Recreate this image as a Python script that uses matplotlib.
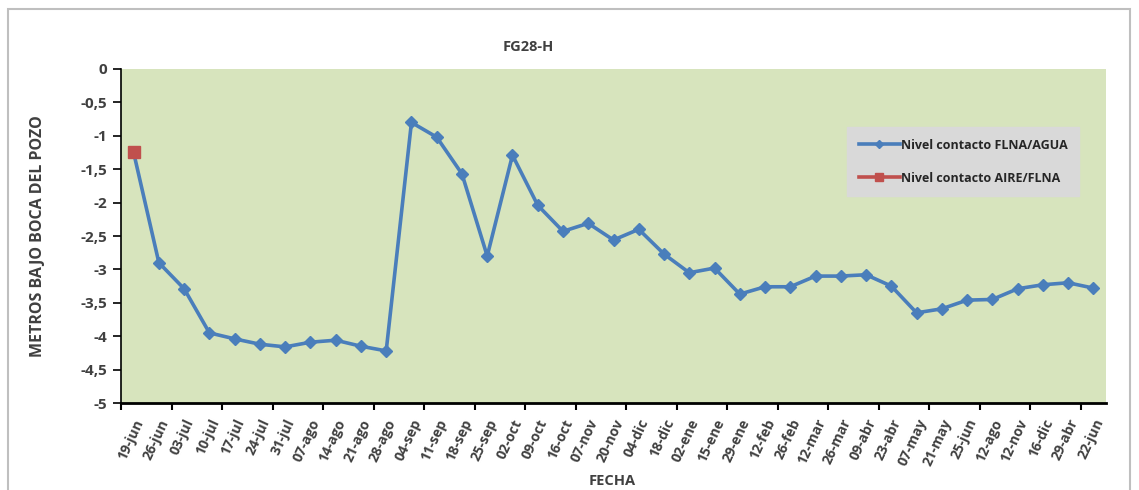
import numpy as np
import matplotlib.pyplot as plt
from matplotlib.patches import Rectangle

fechas = ['19-jun', '26-jun', '03-jul', '10-jul', '17-jul', '24-jul', '31-jul',
          '07-ago', '14-ago', '21-ago', '28-ago', '04-sep', '11-sep', '18-sep',
          '25-sep', '02-oct', '09-oct', '16-oct', '07-nov', '20-nov', '04-dic',
          '18-dic', '02-ene', '15-ene', '29-ene', '12-feb', '26-feb', '12-mar',
          '26-mar', '09-abr', '23-abr', '07-may', '21-may', '25-jun', '12-ago',
          '12-nov', '16-dic', '29-abr', '22-jun']
flna_agua = [-1.25, -2.90, -3.29, -3.95, -4.04, -4.12, -4.16,
             -4.09, -4.06, -4.15, -4.22, -0.80, -1.02, -1.57,
             -2.80, -1.29, -2.04, -2.43, -2.31, -2.56, -2.40,
             -2.77, -3.05, -2.98, -3.37, -3.26, -3.26, -3.10,
             -3.10, -3.08, -3.25, -3.65, -3.59, -3.46, -3.45,
             -3.29, -3.23, -3.20, -3.28]
aire_flna_x = ['19-jun']
aire_flna = [-1.25]

x = np.arange(len(fechas))

plt.rcParams['font.family'] = ['Open Sans', 'DejaVu Sans']
fig = plt.figure(figsize=(11.39, 4.90), dpi=100)
fig.patches.append(Rectangle((8/1139, -0.05), 1122/1139, 1.05 - 9/490, transform=fig.transFigure,
                             fill=False, edgecolor='#bfbfbf', linewidth=1.5))

ax = fig.add_axes([121/1139, 87/490, 985/1139, 334/490])
ax.set_facecolor('#d7e4bd')

ax.plot(x, flna_agua, color='#4a7ebb', lw=2.6, marker='D', ms=6.5,
        label='Nivel contacto FLNA/AGUA', zorder=3)
ax.plot([fechas.index(f) for f in aire_flna_x], aire_flna, color='#c0504d', lw=2.6,
        marker='s', ms=8, label='Nivel contacto AIRE/FLNA', zorder=4)

ax.set_xlim(-0.5, len(fechas) - 0.5)
ax.set_ylim(-5, 0)
ax.set_yticks(np.arange(-5, 0.01, 0.5))
ax.set_yticklabels([('%g' % v).replace('.', ',') for v in np.arange(-5, 0.01, 0.5)],
                   fontsize=11, fontweight='bold', color='#404040')
ax.set_xticks(x)
ax.set_xticklabels(fechas, rotation=65, ha='right', rotation_mode='anchor',
                   fontsize=10, fontweight='bold', color='#404040')
ax.set_xticks(np.arange(-0.5, len(fechas), 2), minor=True)
ax.tick_params(axis='x', which='major', length=0, pad=10)
ax.tick_params(axis='x', which='minor', length=5, width=1.5, direction='out', color='black')
ax.tick_params(axis='y', length=6, width=1.2, direction='out', color='black', pad=4)

for s in ['top', 'right']:
    ax.spines[s].set_visible(False)
ax.spines['left'].set_linewidth(1.2)
ax.spines['bottom'].set_linewidth(2)

ax.set_title('FG28-H', fontsize=10.5, fontweight='bold', color='#404040', pad=13,
             x=(528 - 121) / 985)
fig.text(612/1139, 1 - 481/490, 'FECHA', fontsize=10.5, fontweight='bold',
         color='#404040', ha='center', va='center')
fig.text(38/1139, 1 - 236/490, 'METROS BAJO BOCA DEL POZO', fontsize=11.5,
         fontweight='bold', color='#404040', ha='center', va='center', rotation=90)

leg = ax.legend(loc='upper left', bbox_to_anchor=(0.731, 0.844), frameon=True,
                fancybox=False, facecolor='#d9d9d9', edgecolor='#d9d9d9', framealpha=1,
                fontsize=9, handlelength=3.3, handletextpad=0.1, labelspacing=1.6,
                borderpad=0.9, markerscale=0.7)
for t in leg.get_texts():
    t.set_fontweight('bold')
    t.set_color('#262626')

fig.savefig('out.png', dpi=100)
